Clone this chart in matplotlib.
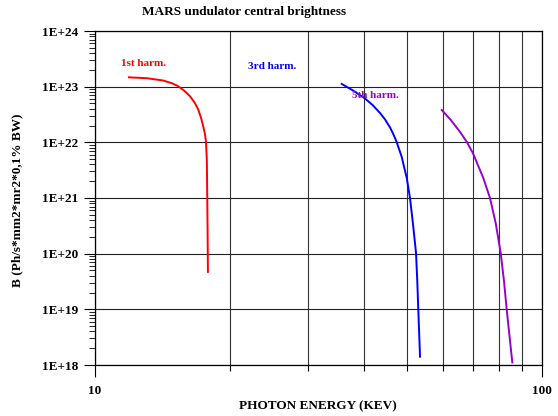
import matplotlib
matplotlib.use("Agg")
import matplotlib.pyplot as plt
from matplotlib.ticker import FixedLocator, NullFormatter, FixedFormatter

plt.rcParams['font.family'] = ['Liberation Serif', 'DejaVu Serif']
plt.rcParams['font.weight'] = 'bold'

# Data (photon energy keV, brightness)
e1 = [11.91, 13.05, 14.20, 14.87, 15.31, 15.82, 16.31, 16.70, 17.02, 17.27, 17.47, 17.62,
      17.71, 17.79, 17.83, 17.86, 17.89]
b1 = [1.47e23, 1.42e23, 1.29e23, 1.15e23, 1.03e23, 8.54e22, 6.74e22, 5.20e22, 3.89e22,
      2.74e22, 1.91e22, 1.41e22, 1.03e22, 4.82e21, 9.9e20, 2.66e20, 4.7e19]

e3 = [35.64, 37.78, 40.18, 41.77, 43.41, 44.56, 45.71, 46.54, 47.31, 48.55, 49.82, 50.67,
      51.45, 52.26, 52.60, 52.88, 53.35]
b3 = [1.12e23, 8.53e22, 6.13e22, 4.69e22, 3.37e22, 2.57e22, 1.85e22, 1.38e22, 1.01e22,
      5.46e21, 2.29e21, 9.9e20, 3.41e20, 1.03e20, 3.23e19, 9.7e18, 1.41e18]

e5 = [59.66, 62.57, 65.55, 67.87, 70.08, 73.9, 76.5, 78.82, 80.83, 82.22, 83.37, 85.82]
b5 = [3.81e22, 2.50e22, 1.54e22, 1.02e22, 6.36e21, 2.29e21, 1.0e21, 3.47e20, 1.03e20,
      3.22e19, 9.98e18, 1.11e18]

y_ticks = [1e18, 1e19, 1e20, 1e21, 1e22, 1e23, 1e24]
y_labels = ["1E+18", "1E+19", "1E+20", "1E+21", "1E+22", "1E+23", "1E+24"]
x_ticks = [10, 100]
x_labels = ["10", "100"]
x_minor = [20, 30, 40, 50, 60, 70, 80, 90]

harm_labels = ["1st harm.", "3rd harm.", "5th harm."]
harm_pos = [(11.43, 2.66e23), (21.99, 2.35e23), (37.58, 7.08e22)]
colors = ["#ff0000", "#0000ff", "#9900cc"]

fig = plt.figure(figsize=(5.58, 4.16), dpi=100)
ax = fig.add_axes([95/558, 51/416, 447/558, 334/416])

for e, b, c in zip([e1, e3, e5], [b1, b3, b5], colors):
    ax.plot(e, b, color=c, lw=1.4, zorder=3, solid_joinstyle='round')

for lab, (px, py), c in zip(harm_labels, harm_pos, colors):
    ax.text(px, py, lab, color=c, fontsize=8, fontweight='bold', ha='left', va='center', zorder=4)

ax.set_xscale('log')
ax.set_yscale('log')
ax.set_xlim(10, 100)
ax.set_ylim(1e18, 1e24)

ax.xaxis.set_major_locator(FixedLocator(x_ticks))
ax.xaxis.set_major_formatter(FixedFormatter(x_labels))
ax.xaxis.set_minor_locator(FixedLocator(x_minor))
ax.xaxis.set_minor_formatter(NullFormatter())

ax.yaxis.set_major_locator(FixedLocator(y_ticks))
ax.yaxis.set_major_formatter(FixedFormatter(y_labels))
ymin = []
for d in range(18, 24):
    for k in range(2, 10):
        ymin.append(k * 10.0 ** d)
ax.yaxis.set_minor_locator(FixedLocator(ymin))
ax.yaxis.set_minor_formatter(NullFormatter())

ax.tick_params(axis='x', which='major', direction='out', length=8.6, width=0.8, pad=6, labelsize=9.5)
ax.tick_params(axis='x', which='minor', direction='out', length=4.3, width=0.8)
ax.tick_params(axis='y', which='major', direction='out', length=8, width=0.8, pad=4, labelsize=9.5)
ax.tick_params(axis='y', which='minor', direction='out', length=4.3, width=0.6)
for lbl in ax.get_xticklabels() + ax.get_yticklabels():
    lbl.set_fontweight('bold')

ax.grid(True, which='major', axis='both', color='#222222', lw=0.8)
ax.grid(True, which='minor', axis='x', color='#333333', lw=0.8)
for s in ax.spines.values():
    s.set_color('black')
    s.set_linewidth(0.9)

fig.text(244/558, 1 - 12/416, "MARS undulator central brightness", ha='center', va='center',
         fontsize=9.5, fontweight='bold')
fig.text(318/558, 1 - 406/416, "PHOTON ENERGY (KEV)", ha='center', va='center',
         fontsize=9.5, fontweight='bold')
fig.text(17/558, 1 - 200/416, "B (Ph/s*mm2*mr2*0,1% BW)", ha='center', va='center',
         rotation=90, fontsize=9.5, fontweight='bold')

fig.savefig("out.png", dpi=100)
